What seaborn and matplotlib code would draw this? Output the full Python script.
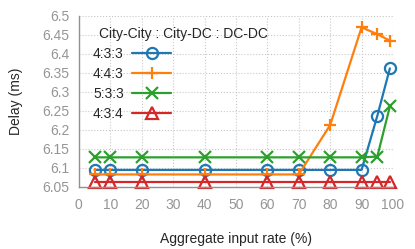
import matplotlib
matplotlib.use('Agg')
import matplotlib.pyplot as plt
import seaborn as sns
import pandas as pd

# aggregate input rate (%)
rates = [5, 10, 20, 40, 60, 70, 80, 90, 95, 99]

# delay (ms) per link-ratio setting
delay_433 = [6.095, 6.095, 6.095, 6.095, 6.095, 6.095, 6.095, 6.095, 6.237, 6.362]
delay_443 = [6.083, 6.083, 6.083, 6.083, 6.083, 6.083, 6.213, 6.470, 6.452, 6.435]
delay_533 = [6.128, 6.128, 6.128, 6.128, 6.128, 6.128, 6.128, 6.128, 6.130, 6.262]
delay_434 = [6.063, 6.063, 6.063, 6.063, 6.063, 6.063, 6.063, 6.063, 6.063, 6.063]

labels = ['4:3:3', '4:4:3', '5:3:3', '4:3:4']
series = [delay_433, delay_443, delay_533, delay_434]
markers = ['o', '+', 'x', '^']
colors = ['#1f77b4', '#ff7f0e', '#2ca02c', '#d62728']

sns.set_style('white')
plt.rcParams['font.family'] = ['Liberation Sans', 'DejaVu Sans']

fig = plt.figure(figsize=(4.15, 2.49), dpi=100)
ax = fig.add_axes([0.19, 0.249, 0.757, 0.687])

for lab, vals, mk, col in zip(labels, series, markers, colors):
    df = pd.DataFrame({'rate': rates, 'delay': vals})
    sns.lineplot(data=df, x='rate', y='delay', ax=ax, color=col, marker=mk,
                 markersize=8, markerfacecolor='none', markeredgecolor=col,
                 markeredgewidth=1.6, linewidth=1.6, label=lab, clip_on=False)

ax.set_xlim(0, 100)
ax.set_ylim(6.05, 6.5)
ax.set_xticks(range(0, 101, 10))
ax.set_yticks([6.05, 6.1, 6.15, 6.2, 6.25, 6.3, 6.35, 6.4, 6.45, 6.5])
ax.set_yticklabels(['6.05', '6.1', '6.15', '6.2', '6.25', '6.3', '6.35', '6.4', '6.45', '6.5'])

ax.grid(True, linestyle=':', color='#c8c8c8', linewidth=0.8)
for s in ['top', 'right']:
    ax.spines[s].set_visible(False)
for s in ['left', 'bottom']:
    ax.spines[s].set_color('#909090')
    ax.spines[s].set_linewidth(1.0)
ax.tick_params(direction='in', colors='#909090', labelcolor='#959595',
               labelsize=10, length=4, width=0.8)
ax.tick_params(axis='x', pad=8)
ax.tick_params(axis='y', pad=7)

ax.set_xlabel('Aggregate input rate (%)', fontsize=10, labelpad=14)
ax.set_ylabel('Delay (ms)', fontsize=10, labelpad=14)

# legend title drawn as its own text, slightly right of the labels
ax.text(0.064, 0.895, 'City-City : City-DC : DC-DC', transform=ax.transAxes,
        fontsize=10, ha='left', va='center')
ax.legend(loc='upper left', frameon=False, markerfirst=False, fontsize=10,
          handlelength=2.8, handletextpad=0.6, labelspacing=0.42,
          borderaxespad=0.0, borderpad=0.0, bbox_to_anchor=(0.045, 0.818))

fig.savefig('out.png', dpi=100)
